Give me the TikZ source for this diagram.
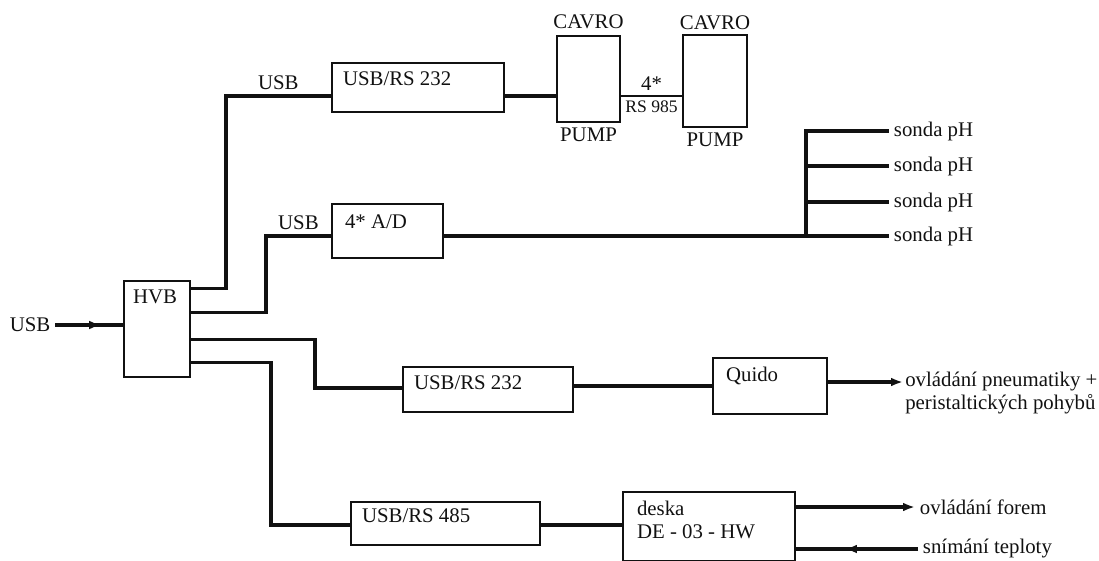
\documentclass[tikz,border=0pt]{standalone}
\usepackage{fontspec}
\setmainfont{Liberation Serif}
\usetikzlibrary{positioning,arrows.meta,decorations.markings}
\definecolor{schemeink}{HTML}{111111}

\begin{document}
\begin{tikzpicture}[
  x=0.025cm,
  y=-0.025cm,
  every node/.style={font=\fontsize{14.8}{16}\selectfont, text=schemeink},
  block/.style={draw=schemeink, line width=1.7pt, rectangle, inner sep=0pt},
  blocktext/.style={anchor=north west, inner xsep=0.3cm, inner ysep=0.25cm, align=left},
  wire/.style={draw=schemeink, line width=2.3pt},
  thinwire/.style={draw=schemeink, line width=0.8pt},
  tipwire/.style={wire, -{Latex[length=3mm,width=2.2mm]}},
  midtip/.style={wire, postaction={decorate},
    decoration={markings, mark=at position #1 with {\arrow{Latex[length=3mm,width=2.2mm]}}}}
]
  \useasboundingbox (0,0) rectangle (1099,560);

  \node[block, minimum width=1.65cm, minimum height=2.4cm] (hvb) at (157,329) {};
  \node[blocktext, inner xsep=0.25cm] (hvbtext) at (hvb.north west) {HVB};
  \node (usbin) at (30,325) {USB};
  \draw[midtip=0.68] (usbin.east) -- (usbin.east -| hvb.west);

  \path (hvb.north east) ++(0,9) coordinate (hvbout1);
  \path (hvb.north east) ++(0,33) coordinate (hvbout2);
  \path (hvb.north east) ++(0,60) coordinate (hvbout3);
  \path (hvb.north east) ++(0,83) coordinate (hvbout4);

  \node[block, minimum width=4.3cm, minimum height=1.225cm] (conv1) at (418,87.5) {};
  \node[blocktext] (conv1text) at (conv1.north west) {USB/RS 232};
  \node[block, minimum width=1.575cm, minimum height=2.15cm] (pumpA) at (588.5,79) {};
  \node[above=1pt of pumpA] (cavroA) {CAVRO};
  \node[below=0pt of pumpA] (pumpAtext) {PUMP};
  \node[block, minimum width=1.6cm, minimum height=2.3cm] (pumpB) at (715,81) {};
  \node[above=1pt of pumpB, yshift=-1.5pt] (cavroB) {CAVRO};
  \node[below=0pt of pumpB] (pumpBtext) {PUMP};

  \draw[wire] (hvbout1) -| (226,96) coordinate (usbline1) -- (usbline1 -| conv1.west)
    node[midway, above] (usb1) {USB};
  \draw[wire] (usbline1 -| conv1.east) -- (usbline1 -| pumpA.west);
  \draw[thinwire] (usbline1 -| pumpA.east) -- (usbline1 -| pumpB.west)
    node[midway, above] (rsfour) {4*}
    node[midway, below, font=\fontsize{12.5}{14}\selectfont] (rsline) {RS 985};

  \node[block, minimum width=2.775cm, minimum height=1.35cm] (ad) at (387.5,231) {};
  \node[blocktext, inner xsep=0.35cm, inner ysep=0.3cm] (adtext) at (ad.north west) {4* A/D};
  \node[anchor=west] (sonda1) at (889,131) {sonda pH};
  \node[anchor=west] (sonda2) at (889,166) {sonda pH};
  \node[anchor=west] (sonda3) at (889,202) {sonda pH};
  \node[anchor=west] (sonda4) at (889,236) {sonda pH};
  \coordinate (bus) at (806,131);

  \draw[wire] (hvbout2) -| (266,236) coordinate (usbline2) -- (usbline2 -| ad.west)
    node[midway, above] (usb2) {USB};
  \draw[wire] (usbline2 -| ad.east) -- (sonda4.west);
  \draw[wire] (bus |- sonda4.west) -- (bus |- sonda1.west) -- (sonda1.west);
  \foreach \i in {2,3}
    \draw[wire] (bus |- sonda\i.west) -- (sonda\i.west);

  \node[block, minimum width=4.25cm, minimum height=1.125cm] (conv2) at (488,389.5) {};
  \node[blocktext] (conv2text) at (conv2.north west) {USB/RS 232};
  \node[block, minimum width=2.85cm, minimum height=1.4cm] (quido) at (770,386) {};
  \node[blocktext, inner xsep=0.35cm] (quidotext) at (quido.north west) {Quido};
  \node[anchor=north west, align=left, inner sep=0pt] (pneu) at (905,372)
    {ovládání pneumatiky +\\peristaltických pohybů};
  \coordinate (pneutip) at (903,382);

  \draw[wire] (hvbout3) -| (315,388) coordinate (usbline3) -- (usbline3 -| conv2.west);
  \draw[wire] (conv2.east |- quido.west) -- (quido.west);
  \draw[tipwire] (pneutip -| quido.east) -- (pneutip);

  \node[block, minimum width=4.725cm, minimum height=1.075cm] (conv3) at (445.5,523.5) {};
  \node[blocktext, inner ysep=0.2cm] (conv3text) at (conv3.north west) {USB/RS 485};
  \node[block, minimum width=4.3cm, minimum height=1.725cm] (deska) at (709,526.5) {};
  \node[blocktext, inner xsep=0.375cm] (deskatext) at (deska.north west) {deska\\DE - 03 - HW};
  \node[anchor=west] (forem) at (915,507) {ovládání forem};
  \node[anchor=west] (teplota) at (918,549) {snímání teploty};

  \draw[wire] (hvbout4) -| (271,525) coordinate (usbline4) -- (usbline4 -| conv3.west);
  \draw[wire] (usbline4 -| conv3.east) -- (usbline4 -| deska.west);
  \draw[tipwire] (forem.west -| deska.east) -- (forem.west);
  \draw[midtip=0.6] (teplota.west) -- (teplota.west -| deska.east);
\end{tikzpicture}
\end{document}
